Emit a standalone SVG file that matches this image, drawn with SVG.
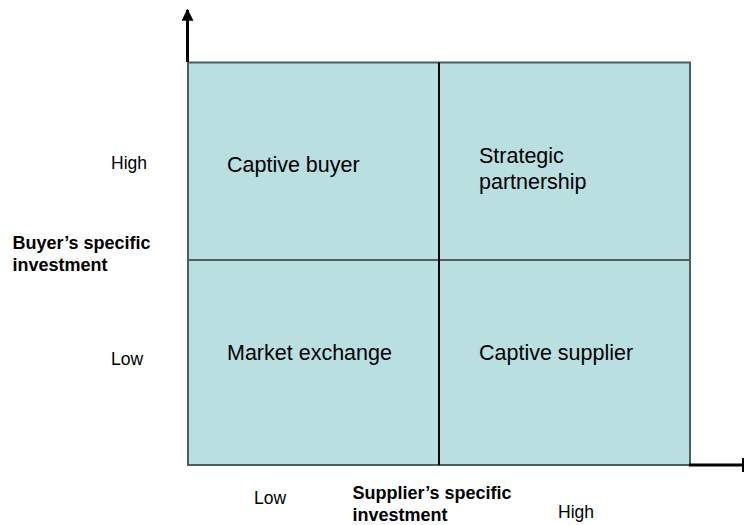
<svg xmlns="http://www.w3.org/2000/svg" width="744" height="525" viewBox="0 0 744 525">
<style>
.q{font-family:"Liberation Sans",Arial,sans-serif;font-size:21.5px;fill:#000}
.l{font-family:"Liberation Sans",Arial,sans-serif;font-size:17.5px;fill:#000}
.b{font-family:"Liberation Sans",Arial,sans-serif;font-size:18px;font-weight:bold;fill:#000}
</style>
<defs>
<marker id="ah" viewBox="0 0 10 10" refX="9" refY="5" markerWidth="4" markerHeight="4" orient="auto"><path d="M0,0 L10,5 L0,10 z" fill="#000"/></marker>
</defs>
<rect width="744" height="525" fill="#fff"/>
<g id="grid">
<rect x="188" y="62.5" width="502" height="402.5" fill="#b9dfe1" stroke="#4d6060" stroke-width="2"/>
<line x1="188" y1="260" x2="690" y2="260" stroke="#4d6060" stroke-width="2"/>
<line x1="439" y1="62.5" x2="439" y2="465" stroke="#000" stroke-width="2"/>
</g>
<g id="axes">
<line x1="187.5" y1="62" x2="187.5" y2="10" stroke="#000" stroke-width="3" marker-end="url(#ah)"/>
<line x1="689" y1="465" x2="744" y2="465" stroke="#000" stroke-width="3"/>
<line x1="743" y1="458" x2="743" y2="472" stroke="#000" stroke-width="2"/>
</g>
<g id="q1"><text class="q" x="227" y="171.5">Captive buyer</text></g>
<g id="q2"><text class="q" x="479" y="163">Strategic</text><text class="q" x="479" y="188.5">partnership</text></g>
<g id="q3"><text class="q" x="227" y="360">Market exchange</text></g>
<g id="q4"><text class="q" x="479" y="360">Captive supplier</text></g>
<g id="labels">
<text class="l" x="111" y="169">High</text>
<text class="l" x="111" y="365">Low</text>
<text class="b" x="12.5" y="249">Buyer’s specific</text>
<text class="b" x="12.5" y="271">investment</text>
<text class="l" x="254" y="504">Low</text>
<text class="b" x="352.5" y="499">Supplier’s specific</text>
<text class="b" x="352.5" y="521">investment</text>
<text class="l" x="558" y="518">High</text>
</g>
</svg>
